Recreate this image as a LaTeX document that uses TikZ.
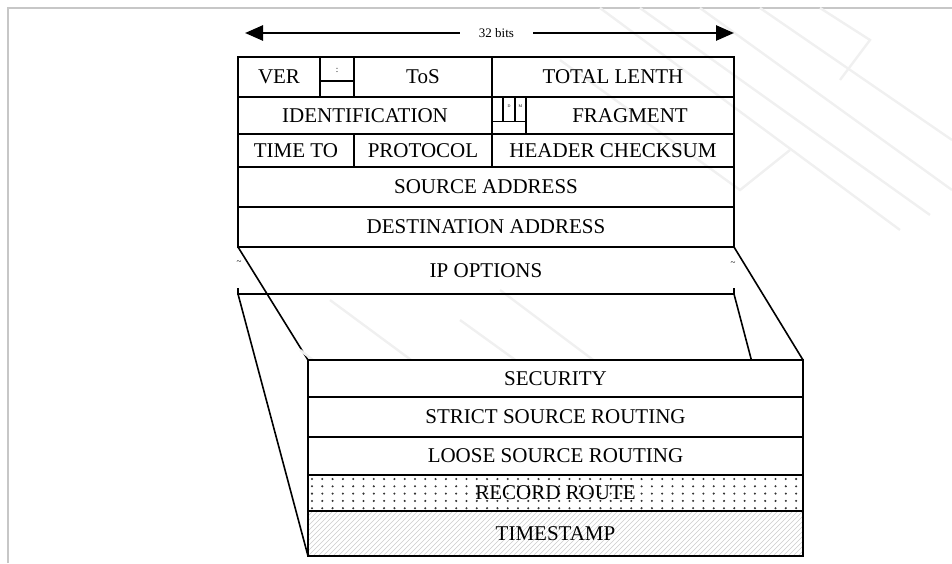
\documentclass[tikz,border=0pt]{standalone}
\usepackage{fontspec}
\setmainfont{Liberation Serif}
\usetikzlibrary{arrows.meta}
\pgfdeclarelayer{background}
\pgfsetlayers{background,main}
\tikzset{
  field/.style={draw, line width=1.8pt, inner sep=0pt, outer sep=0pt,
    font=\fontsize{21}{24}\selectfont},
  optfield/.style={field, fill=white},
  divider/.style={line width=1.6pt},
  link/.style={line width=1.6pt},
  widtharrow/.style={line width=2.6pt, -{Triangle[length=18pt,width=15pt]}},
  frameline/.style={draw=black!22, line width=1.6pt},
  watermark/.style={draw=black!6, line width=2.4pt},
  dotfill/.style={path picture={
    \foreach \i in {0,...,48}
      \foreach \j in {0,...,4}
        \fill[black!80] ([xshift=\i*10.3pt+4pt, yshift=-\j*7.3pt-4pt]path picture bounding box.north west) circle (1.15pt);
  }},
  hatchfill/.style={path picture={
    \foreach \k in {0,...,110}
      \draw[black!20, line width=0.6pt] ([xshift=\k*5pt-50pt]path picture bounding box.south west) -- ++(55pt,55pt);
  }}
}
\begin{document}
\begin{tikzpicture}[x=1pt, y=-1pt]
\useasboundingbox (0,0) rectangle (952,563);

% page frame
\draw[frameline] (8,563) -- (8,8) -- (952,8);

% faint background logo strokes
\begin{scope}[watermark]
  \draw (600,8) -- (900,230);
  \draw (640,8) -- (930,215);
  \draw (700,8) -- (952,190);
  \draw (760,8) -- (952,140);
  \draw (560,60) -- (740,190) -- (790,150);
  \draw (820,8) -- (870,40) -- (840,80);
  \draw (330,300) -- (560,470);
  \draw (300,350) -- (520,520);
  \draw (460,320) -- (640,450);
  \draw (500,290) -- (700,440);
\end{scope}

% width indicator
\node[minimum width=73pt, inner sep=0pt, font=\fontsize{13}{15}\selectfont] (bits) at (496.5,33) {32 bits};
\coordinate (arrL) at (245,33);
\coordinate (arrR) at (734,33);
\draw[widtharrow] (bits.west) -- (arrL);
\draw[widtharrow] (bits.east) -- (arrR);

% header word 1
\node[field, minimum width=82pt,  minimum height=40pt] (ver)  at (279,77)  {VER};
\node[field, minimum width=34pt,  minimum height=40pt] (ihl)  at (337,77)  {};
\node[field, minimum width=138pt, minimum height=40pt] (tos)  at (423,77)  {ToS};
\node[field, minimum width=242pt, minimum height=40pt] (tlen) at (613,77)  {TOTAL LENTH};
\draw[divider] ([yshift=-24pt]ihl.north west) -- ([yshift=-24pt]ihl.north east);
\node[inner sep=0pt, font=\fontsize{9}{9}\selectfont] (ihltext) at (337,70) {:};

% header word 2
\node[field, minimum width=254pt, minimum height=37pt] (ident) at (365,115.5) {IDENTIFICATION};
\node[field, minimum width=34pt,  minimum height=37pt] (flags) at (509,115.5) {};
\node[field, minimum width=208pt, minimum height=37pt] (frag)  at (630,115.5) {FRAGMENT};
\draw[divider] ([xshift=11pt]flags.north west) -- ([xshift=11pt,yshift=-24.5pt]flags.north west);
\draw[divider] ([xshift=23pt]flags.north west) -- ([xshift=23pt,yshift=-24.5pt]flags.north west);
\draw[divider] ([yshift=-24.5pt]flags.north west) -- ([yshift=-24.5pt]flags.north east);
\node[inner sep=0pt, font=\fontsize{4}{4}\selectfont] (dfbit) at (509,106) {D};
\node[inner sep=0pt, font=\fontsize{4}{4}\selectfont] (mfbit) at (520.5,106) {M};

% header word 3
\node[field, minimum width=116pt, minimum height=33pt] (ttl)   at (296,150.5) {TIME TO};
\node[field, minimum width=138pt, minimum height=33pt] (proto) at (423,150.5) {PROTOCOL};
\node[field, minimum width=242pt, minimum height=33pt] (csum)  at (613,150.5) {HEADER CHECKSUM};

% addresses
\node[field, minimum width=496pt, minimum height=40pt] (src) at (486,187) {SOURCE ADDRESS};
\node[field, minimum width=496pt, minimum height=40pt] (dst) at (486,227) {DESTINATION ADDRESS};

% options field, open at the sides
\node[field, draw=none, minimum width=496pt, minimum height=47pt] (opts) at (486,270.5) {IP OPTIONS};
\draw[divider] ([yshift=6pt]opts.south west) -- (opts.south west) -- (opts.south east) -- ([yshift=6pt]opts.south east);
\node[inner sep=0pt, font=\fontsize{9}{9}\selectfont] (tildeL) at (239,263) {\textasciitilde};
\node[inner sep=0pt, font=\fontsize{9}{9}\selectfont] (tildeR) at (733,264) {\textasciitilde};

% expanded option list
\node[optfield, minimum width=495pt, minimum height=37pt] (sec) at (555.5,378.5) {SECURITY};
\node[optfield, minimum width=495pt, minimum height=40pt] (ssr) at (555.5,417)   {STRICT SOURCE ROUTING};
\node[optfield, minimum width=495pt, minimum height=38pt] (lsr) at (555.5,456)   {LOOSE SOURCE ROUTING};
\node[optfield, dotfill, minimum width=495pt, minimum height=36pt] (rr) at (555.5,493) {RECORD ROUTE};
\node[optfield, hatchfill, minimum width=495pt, minimum height=45pt] (ts) at (555.5,533.5) {TIMESTAMP};

% projection lines behind the option list
\begin{pgfonlayer}{background}
  \draw[link] (opts.north west) -- (sec.north west);
  \draw[link] (opts.south west) -- (ts.south west);
  \draw[link] (opts.north east) -- (sec.north east);
  \draw[link] (opts.south east) -- (ts.south east);
\end{pgfonlayer}
\end{tikzpicture}
\end{document}
